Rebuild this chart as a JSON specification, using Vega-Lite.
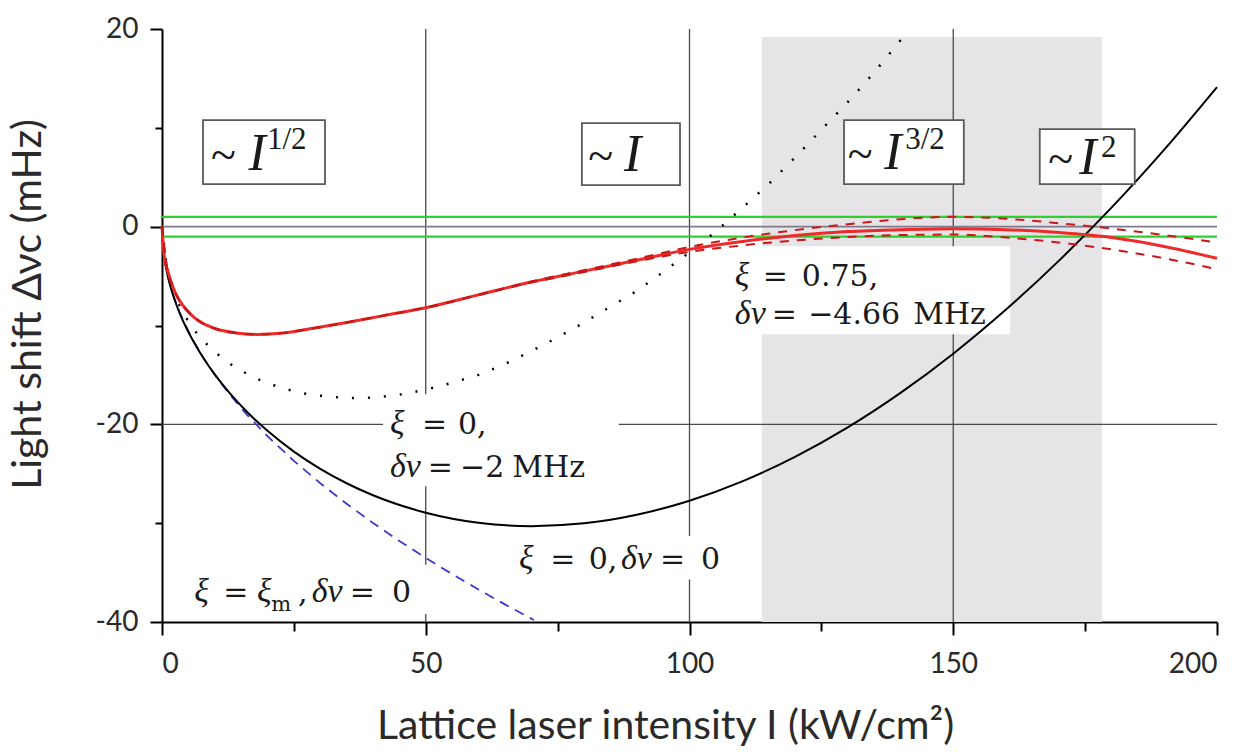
{
  "$schema": "https://vega.github.io/schema/vega-lite/v6.json",
  "width": 1055,
  "height": 593,
  "autosize": {"type": "none"},
  "padding": {"left": 162, "top": 29, "right": 32, "bottom": 132},
  "background": "white",
  "config": {"view": {"stroke": null}, "axis": {"grid": false}},
  "datasets": {
    "shade": [{"I": 113.7, "I2": 178.2, "v": -40, "v2": 19.2}],
    "vgrid": [{"I": 50, "v": -40, "v2": 20}, {"I": 100, "v": -40, "v2": 20}, {"I": 150, "v": -40, "v2": 20}],
    "hlines": [
      {"s": "grid", "v": -20, "I": 0, "I2": 200},
      {"s": "green", "v": 1, "I": 0, "I2": 200},
      {"s": "green", "v": -1, "I": 0, "I2": 200},
      {"s": "zero", "v": 0, "I": 0, "I2": 200}
    ],
    "masks": [
      {"I": 41.9, "I2": 86.6, "v": -16.95, "v2": -26.26},
      {"I": 66.4, "I2": 107.7, "v": -31.3, "v2": -35.7},
      {"I": 4.4, "I2": 51.2, "v": -34.2, "v2": -39.2},
      {"I": 104.8, "I2": 160.8, "v": -1.97, "v2": -10.88}
    ],
    "boxes": [
      {"I": 7.77, "I2": 30.9, "v": 10.78, "v2": 4.3},
      {"I": 79.6, "I2": 98.2, "v": 10.48, "v2": 4.2},
      {"I": 129.3, "I2": 152.0, "v": 10.78, "v2": 4.3},
      {"I": 166.4, "I2": 184.4, "v": 9.87, "v2": 4.3}
    ],
    "curves": [
      {"s": "black", "I": 0, "v": 0}, {"s": "black", "I": 0.25, "v": -2.38}, {"s": "black", "I": 0.5, "v": -3.37}, {"s": "black", "I": 1, "v": -4.77}, {"s": "black", "I": 2, "v": -6.76}, {"s": "black", "I": 3, "v": -8.28}, {"s": "black", "I": 4, "v": -9.56}, {"s": "black", "I": 6, "v": -11.65}, {"s": "black", "I": 8, "v": -13.42}, {"s": "black", "I": 10, "v": -14.95}, {"s": "black", "I": 13, "v": -16.95}, {"s": "black", "I": 16, "v": -18.68}, {"s": "black", "I": 20, "v": -20.66}, {"s": "black", "I": 25, "v": -22.76}, {"s": "black", "I": 30, "v": -24.5}, {"s": "black", "I": 35, "v": -25.96}, {"s": "black", "I": 40, "v": -27.18}, {"s": "black", "I": 50, "v": -28.94}, {"s": "black", "I": 60, "v": -29.96}, {"s": "black", "I": 70, "v": -30.3}, {"s": "black", "I": 80, "v": -30.02}, {"s": "black", "I": 90, "v": -29.15}, {"s": "black", "I": 100, "v": -27.73}, {"s": "black", "I": 110, "v": -25.77}, {"s": "black", "I": 120, "v": -23.29}, {"s": "black", "I": 130, "v": -20.31}, {"s": "black", "I": 140, "v": -16.82}, {"s": "black", "I": 150, "v": -12.85}, {"s": "black", "I": 160, "v": -8.39}, {"s": "black", "I": 170, "v": -3.46}, {"s": "black", "I": 180, "v": 1.93}, {"s": "black", "I": 190, "v": 7.8}, {"s": "black", "I": 200, "v": 14.13},
      {"s": "blue", "I": 0, "v": 0}, {"s": "blue", "I": 0.25, "v": -2.37}, {"s": "blue", "I": 0.5, "v": -3.35}, {"s": "blue", "I": 1, "v": -4.74}, {"s": "blue", "I": 2, "v": -6.7}, {"s": "blue", "I": 3, "v": -8.21}, {"s": "blue", "I": 4, "v": -9.48}, {"s": "blue", "I": 6, "v": -11.61}, {"s": "blue", "I": 8, "v": -13.41}, {"s": "blue", "I": 10, "v": -14.99}, {"s": "blue", "I": 13, "v": -17.09}, {"s": "blue", "I": 16, "v": -18.96}, {"s": "blue", "I": 20, "v": -21.2}, {"s": "blue", "I": 25, "v": -23.7}, {"s": "blue", "I": 30, "v": -25.96}, {"s": "blue", "I": 35, "v": -28.04}, {"s": "blue", "I": 40, "v": -29.98}, {"s": "blue", "I": 45, "v": -31.8}, {"s": "blue", "I": 50, "v": -33.52}, {"s": "blue", "I": 55, "v": -35.15}, {"s": "blue", "I": 60, "v": -36.72}, {"s": "blue", "I": 65, "v": -38.22}, {"s": "blue", "I": 70.5, "v": -39.8},
      {"s": "dot", "I": 0, "v": 0}, {"s": "dot", "I": 1, "v": -4.6}, {"s": "dot", "I": 2, "v": -6.4}, {"s": "dot", "I": 4, "v": -8.8}, {"s": "dot", "I": 7, "v": -11.1}, {"s": "dot", "I": 10, "v": -12.7}, {"s": "dot", "I": 14, "v": -14.3}, {"s": "dot", "I": 18, "v": -15.4}, {"s": "dot", "I": 22, "v": -16.2}, {"s": "dot", "I": 26, "v": -16.8}, {"s": "dot", "I": 30, "v": -17.1}, {"s": "dot", "I": 35, "v": -17.35}, {"s": "dot", "I": 40, "v": -17.3}, {"s": "dot", "I": 45, "v": -17.0}, {"s": "dot", "I": 50, "v": -16.5}, {"s": "dot", "I": 55, "v": -15.8}, {"s": "dot", "I": 60, "v": -15.0}, {"s": "dot", "I": 65, "v": -13.9}, {"s": "dot", "I": 70, "v": -12.6}, {"s": "dot", "I": 75, "v": -11.2}, {"s": "dot", "I": 80, "v": -9.7}, {"s": "dot", "I": 85, "v": -8.1}, {"s": "dot", "I": 90, "v": -6.5}, {"s": "dot", "I": 95, "v": -4.6}, {"s": "dot", "I": 100, "v": -2.6}, {"s": "dot", "I": 105, "v": -0.5}, {"s": "dot", "I": 110, "v": 1.9}, {"s": "dot", "I": 115, "v": 4.3}, {"s": "dot", "I": 120, "v": 7.0}, {"s": "dot", "I": 125, "v": 9.8}, {"s": "dot", "I": 130, "v": 12.6}, {"s": "dot", "I": 135, "v": 15.6}, {"s": "dot", "I": 141, "v": 19.5},
      {"s": "red", "I": 0, "v": 0}, {"s": "red", "I": 0.5, "v": -3.3}, {"s": "red", "I": 1, "v": -4.3}, {"s": "red", "I": 2, "v": -6.0}, {"s": "red", "I": 3, "v": -7.2}, {"s": "red", "I": 4, "v": -8.0}, {"s": "red", "I": 5.5, "v": -8.9}, {"s": "red", "I": 7, "v": -9.55}, {"s": "red", "I": 10, "v": -10.3}, {"s": "red", "I": 14, "v": -10.75}, {"s": "red", "I": 18, "v": -10.9}, {"s": "red", "I": 23, "v": -10.75}, {"s": "red", "I": 29, "v": -10.25}, {"s": "red", "I": 35, "v": -9.7}, {"s": "red", "I": 42, "v": -9.0}, {"s": "red", "I": 50, "v": -8.2}, {"s": "red", "I": 60, "v": -6.9}, {"s": "red", "I": 70, "v": -5.6}, {"s": "red", "I": 80, "v": -4.5}, {"s": "red", "I": 90, "v": -3.4}, {"s": "red", "I": 100, "v": -2.3}, {"s": "red", "I": 110, "v": -1.5}, {"s": "red", "I": 120, "v": -0.9}, {"s": "red", "I": 130, "v": -0.5}, {"s": "red", "I": 140, "v": -0.3}, {"s": "red", "I": 150, "v": -0.2}, {"s": "red", "I": 160, "v": -0.3}, {"s": "red", "I": 170, "v": -0.6}, {"s": "red", "I": 180, "v": -1.1}, {"s": "red", "I": 190, "v": -2.0}, {"s": "red", "I": 200, "v": -3.2},
      {"s": "redhi", "I": 0, "v": 0}, {"s": "redhi", "I": 1, "v": -4.3}, {"s": "redhi", "I": 2, "v": -6.0}, {"s": "redhi", "I": 3, "v": -7.2}, {"s": "redhi", "I": 4, "v": -8.0}, {"s": "redhi", "I": 5.5, "v": -8.9}, {"s": "redhi", "I": 7, "v": -9.55}, {"s": "redhi", "I": 10, "v": -10.3}, {"s": "redhi", "I": 14, "v": -10.75}, {"s": "redhi", "I": 18, "v": -10.9}, {"s": "redhi", "I": 23, "v": -10.75}, {"s": "redhi", "I": 29, "v": -10.25}, {"s": "redhi", "I": 35, "v": -9.7}, {"s": "redhi", "I": 42, "v": -9.0}, {"s": "redhi", "I": 50, "v": -8.2}, {"s": "redhi", "I": 60, "v": -6.9}, {"s": "redhi", "I": 70, "v": -5.55}, {"s": "redhi", "I": 80, "v": -4.4}, {"s": "redhi", "I": 90, "v": -3.25}, {"s": "redhi", "I": 100, "v": -2.05}, {"s": "redhi", "I": 110, "v": -1.1}, {"s": "redhi", "I": 120, "v": -0.35}, {"s": "redhi", "I": 130, "v": 0.25}, {"s": "redhi", "I": 140, "v": 0.75}, {"s": "redhi", "I": 150, "v": 1.0}, {"s": "redhi", "I": 160, "v": 0.8}, {"s": "redhi", "I": 170, "v": 0.35}, {"s": "redhi", "I": 180, "v": -0.2}, {"s": "redhi", "I": 190, "v": -0.85}, {"s": "redhi", "I": 200, "v": -1.6},
      {"s": "redlo", "I": 0, "v": 0}, {"s": "redlo", "I": 1, "v": -4.3}, {"s": "redlo", "I": 2, "v": -6.0}, {"s": "redlo", "I": 3, "v": -7.2}, {"s": "redlo", "I": 4, "v": -8.0}, {"s": "redlo", "I": 5.5, "v": -8.9}, {"s": "redlo", "I": 7, "v": -9.55}, {"s": "redlo", "I": 10, "v": -10.3}, {"s": "redlo", "I": 14, "v": -10.75}, {"s": "redlo", "I": 18, "v": -10.9}, {"s": "redlo", "I": 23, "v": -10.75}, {"s": "redlo", "I": 29, "v": -10.25}, {"s": "redlo", "I": 35, "v": -9.7}, {"s": "redlo", "I": 42, "v": -9.0}, {"s": "redlo", "I": 50, "v": -8.2}, {"s": "redlo", "I": 60, "v": -6.9}, {"s": "redlo", "I": 70, "v": -5.65}, {"s": "redlo", "I": 80, "v": -4.6}, {"s": "redlo", "I": 90, "v": -3.5}, {"s": "redlo", "I": 100, "v": -2.55}, {"s": "redlo", "I": 110, "v": -1.9}, {"s": "redlo", "I": 120, "v": -1.4}, {"s": "redlo", "I": 130, "v": -1.05}, {"s": "redlo", "I": 140, "v": -0.85}, {"s": "redlo", "I": 150, "v": -0.8}, {"s": "redlo", "I": 160, "v": -1.1}, {"s": "redlo", "I": 170, "v": -1.6}, {"s": "redlo", "I": 180, "v": -2.3}, {"s": "redlo", "I": 190, "v": -3.2}, {"s": "redlo", "I": 200, "v": -4.3}
    ],
    "texts": [
      {"t": "ξ", "I": 43.2, "v": -21.0, "k": "it"},
      {"t": "=", "I": 49.3, "v": -21.0, "k": "up"},
      {"t": "0,", "I": 56.1, "v": -21.0, "k": "up"},
      {"t": "δν", "I": 43.2, "v": -25.35, "k": "it"},
      {"t": "=", "I": 50.4, "v": -25.35, "k": "up"},
      {"t": "−2", "I": 56.5, "v": -25.35, "k": "up"},
      {"t": "MHz", "I": 66.4, "v": -25.35, "k": "up"},
      {"t": "ξ", "I": 67.7, "v": -34.67, "k": "it"},
      {"t": "=", "I": 73.6, "v": -34.67, "k": "up"},
      {"t": "0,", "I": 80.9, "v": -34.67, "k": "up"},
      {"t": "δν", "I": 87.0, "v": -34.67, "k": "it"},
      {"t": "=", "I": 94.4, "v": -34.67, "k": "up"},
      {"t": "0", "I": 102.2, "v": -34.67, "k": "up"},
      {"t": "ξ", "I": 6.1, "v": -38.0, "k": "it"},
      {"t": "=", "I": 11.6, "v": -38.0, "k": "up"},
      {"t": "ξ", "I": 18.0, "v": -38.0, "k": "it"},
      {"t": "m", "I": 20.7, "v": -38.9, "k": "sub"},
      {"t": ",", "I": 25.8, "v": -38.0, "k": "up"},
      {"t": "δν", "I": 28.4, "v": -38.0, "k": "it"},
      {"t": "=", "I": 35.6, "v": -38.0, "k": "up"},
      {"t": "0", "I": 43.6, "v": -38.0, "k": "up"},
      {"t": "ξ", "I": 108.6, "v": -6.02, "k": "it"},
      {"t": "=", "I": 113.9, "v": -6.02, "k": "up"},
      {"t": "0.75,", "I": 121.3, "v": -6.02, "k": "up"},
      {"t": "δν", "I": 108.6, "v": -9.87, "k": "it"},
      {"t": "=", "I": 115.6, "v": -9.87, "k": "up"},
      {"t": "−4.66", "I": 122.5, "v": -9.87, "k": "up"},
      {"t": "MHz", "I": 142.4, "v": -9.87, "k": "up"},
      {"t": "~", "I": 9.3, "v": 5.72, "k": "bup"},
      {"t": "I", "I": 16.4, "v": 5.72, "k": "bit"},
      {"t": "1/2", "I": 19.9, "v": 7.84, "k": "sup"},
      {"t": "~", "I": 80.8, "v": 5.62, "k": "bup"},
      {"t": "I", "I": 87.6, "v": 5.62, "k": "bit"},
      {"t": "~", "I": 130.0, "v": 5.82, "k": "bup"},
      {"t": "I", "I": 136.9, "v": 5.82, "k": "bit"},
      {"t": "3/2", "I": 140.9, "v": 7.84, "k": "sup"},
      {"t": "~", "I": 168.0, "v": 5.31, "k": "bup"},
      {"t": "I", "I": 173.9, "v": 5.31, "k": "bit"},
      {"t": "2", "I": 178.0, "v": 7.03, "k": "sup"}
    ]
  },
  "layer": [
    {
      "data": {"name": "shade"},
      "mark": {"type": "rect", "color": "#e6e4e6"},
      "encoding": {
        "x": {"field": "I", "type": "quantitative",
          "scale": {"domain": [0, 200], "nice": false, "zero": false},
          "axis": {
            "title": "Lattice laser intensity I (kW/cm²)",
            "values": [0, 25, 50, 75, 100, 125, 150, 175, 200],
            "labelExpr": "datum.value % 50 === 0 ? datum.label : ''",
            "tickSize": {"condition": {"test": "datum.value % 50 === 0", "value": 13}, "value": 9},
            "domainColor": "black", "domainWidth": 2, "tickColor": "black", "tickWidth": 2,
            "labelFont": "Lato", "labelFontSize": 28, "labelColor": "#2a2a2a", "labelPadding": 15,
            "titleFont": "Lato", "titleFontSize": 41, "titleFontWeight": "normal", "titleColor": "#2a2a2a", "titlePadding": 28,
            "titleX": 503
          }},
        "x2": {"field": "I2"},
        "y": {"field": "v", "type": "quantitative",
          "scale": {"domain": [-40, 20], "nice": false, "zero": false},
          "axis": {
            "title": "Light shift Δνc (mHz)",
            "values": [-40, -30, -20, -10, 0, 10, 20],
            "labelExpr": "datum.value % 20 === 0 ? '' + datum.value : ''",
            "tickSize": {"condition": {"test": "datum.value % 20 === 0", "value": 12}, "value": 7},
            "domainColor": "black", "domainWidth": 2, "tickColor": "black", "tickWidth": 2,
            "labelFont": "Lato", "labelFontSize": 28, "labelColor": "#2a2a2a", "labelPadding": 12,
            "titleFont": "Lato", "titleFontSize": 41, "titleFontWeight": "normal", "titleColor": "#2a2a2a", "titlePadding": 46,
            "titleY": 275
          }},
        "y2": {"field": "v2"}
      }
    },
    {
      "data": {"name": "vgrid"},
      "mark": {"type": "rule", "color": "#4a4a4a", "strokeWidth": 1.3},
      "encoding": {
        "x": {"field": "I", "type": "quantitative"},
        "y": {"field": "v", "type": "quantitative"},
        "y2": {"field": "v2"}
      }
    },
    {
      "data": {"name": "hlines"},
      "transform": [{"filter": "datum.s === 'grid'"}],
      "mark": {"type": "rule", "color": "#4a4a4a", "strokeWidth": 1.3},
      "encoding": {
        "x": {"field": "I", "type": "quantitative"},
        "x2": {"field": "I2"},
        "y": {"field": "v", "type": "quantitative"}
      }
    },
    {
      "data": {"name": "masks"},
      "mark": {"type": "rect", "color": "white"},
      "encoding": {
        "x": {"field": "I", "type": "quantitative"},
        "x2": {"field": "I2"},
        "y": {"field": "v", "type": "quantitative"},
        "y2": {"field": "v2"}
      }
    },
    {
      "data": {"name": "hlines"},
      "transform": [{"filter": "datum.s === 'zero'"}],
      "mark": {"type": "rule", "color": "#7f7a8c", "strokeWidth": 1.6},
      "encoding": {
        "x": {"field": "I", "type": "quantitative"},
        "x2": {"field": "I2"},
        "y": {"field": "v", "type": "quantitative"}
      }
    },
    {
      "data": {"name": "hlines"},
      "transform": [{"filter": "datum.s === 'green'"}],
      "mark": {"type": "rule", "color": "#2fcf2f", "strokeWidth": 2.2},
      "encoding": {
        "x": {"field": "I", "type": "quantitative"},
        "x2": {"field": "I2"},
        "y": {"field": "v", "type": "quantitative"}
      }
    },
    {
      "data": {"name": "curves"},
      "transform": [{"filter": "datum.s === 'blue'"}],
      "mark": {"type": "line", "color": "#3a3acc", "strokeWidth": 1.8, "strokeDash": [10, 7]},
      "encoding": {
        "x": {"field": "I", "type": "quantitative"},
        "y": {"field": "v", "type": "quantitative"},
        "order": {"field": "I"}
      }
    },
    {
      "data": {"name": "curves"},
      "transform": [{"filter": "datum.s === 'dot'"}],
      "mark": {"type": "line", "color": "black", "strokeWidth": 2.5, "strokeDash": [2, 14]},
      "encoding": {
        "x": {"field": "I", "type": "quantitative"},
        "y": {"field": "v", "type": "quantitative"},
        "order": {"field": "I"}
      }
    },
    {
      "data": {"name": "curves"},
      "transform": [{"filter": "datum.s === 'black'"}],
      "mark": {"type": "line", "color": "black", "strokeWidth": 2, "interpolate": "monotone"},
      "encoding": {
        "x": {"field": "I", "type": "quantitative"},
        "y": {"field": "v", "type": "quantitative"},
        "order": {"field": "I"}
      }
    },
    {
      "data": {"name": "curves"},
      "transform": [{"filter": "datum.s === 'red'"}],
      "mark": {"type": "line", "color": "#ee2a2a", "strokeWidth": 3, "interpolate": "monotone"},
      "encoding": {
        "x": {"field": "I", "type": "quantitative"},
        "y": {"field": "v", "type": "quantitative"},
        "order": {"field": "I"}
      }
    },
    {
      "data": {"name": "curves"},
      "transform": [{"filter": "datum.s === 'redhi' || datum.s === 'redlo'"}],
      "mark": {"type": "line", "color": "#c81818", "strokeWidth": 2, "strokeDash": [9, 8], "interpolate": "monotone"},
      "encoding": {
        "x": {"field": "I", "type": "quantitative"},
        "y": {"field": "v", "type": "quantitative"},
        "detail": {"field": "s"},
        "order": {"field": "I"}
      }
    },
    {
      "data": {"name": "boxes"},
      "mark": {"type": "rect", "fill": "white", "stroke": "#5a5a5a", "strokeWidth": 1.8},
      "encoding": {
        "x": {"field": "I", "type": "quantitative"},
        "x2": {"field": "I2"},
        "y": {"field": "v", "type": "quantitative"},
        "y2": {"field": "v2"}
      }
    },
    {
      "data": {"name": "texts"},
      "transform": [{"filter": "datum.k === 'up'"}],
      "mark": {"type": "text", "font": "DejaVu Serif", "fontSize": 30, "align": "left", "baseline": "alphabetic", "color": "#1a1a1a"},
      "encoding": {
        "x": {"field": "I", "type": "quantitative"},
        "y": {"field": "v", "type": "quantitative"},
        "text": {"field": "t"}
      }
    },
    {
      "data": {"name": "texts"},
      "transform": [{"filter": "datum.k === 'it'"}],
      "mark": {"type": "text", "font": "Liberation Serif", "fontStyle": "italic", "fontSize": 34, "align": "left", "baseline": "alphabetic", "color": "#1a1a1a"},
      "encoding": {
        "x": {"field": "I", "type": "quantitative"},
        "y": {"field": "v", "type": "quantitative"},
        "text": {"field": "t"}
      }
    },
    {
      "data": {"name": "texts"},
      "transform": [{"filter": "datum.k === 'sub'"}],
      "mark": {"type": "text", "font": "DejaVu Serif", "fontSize": 21, "align": "left", "baseline": "alphabetic", "color": "#1a1a1a"},
      "encoding": {
        "x": {"field": "I", "type": "quantitative"},
        "y": {"field": "v", "type": "quantitative"},
        "text": {"field": "t"}
      }
    },
    {
      "data": {"name": "texts"},
      "transform": [{"filter": "datum.k === 'bup'"}],
      "mark": {"type": "text", "font": "Liberation Serif", "fontSize": 46, "align": "left", "baseline": "alphabetic", "color": "#1a1a1a"},
      "encoding": {
        "x": {"field": "I", "type": "quantitative"},
        "y": {"field": "v", "type": "quantitative"},
        "text": {"field": "t"}
      }
    },
    {
      "data": {"name": "texts"},
      "transform": [{"filter": "datum.k === 'bit'"}],
      "mark": {"type": "text", "font": "Liberation Serif", "fontStyle": "italic", "fontSize": 52, "align": "left", "baseline": "alphabetic", "color": "#1a1a1a"},
      "encoding": {
        "x": {"field": "I", "type": "quantitative"},
        "y": {"field": "v", "type": "quantitative"},
        "text": {"field": "t"}
      }
    },
    {
      "data": {"name": "texts"},
      "transform": [{"filter": "datum.k === 'sup'"}],
      "mark": {"type": "text", "font": "Liberation Serif", "fontSize": 31, "align": "left", "baseline": "alphabetic", "color": "#1a1a1a"},
      "encoding": {
        "x": {"field": "I", "type": "quantitative"},
        "y": {"field": "v", "type": "quantitative"},
        "text": {"field": "t"}
      }
    }
  ]
}
